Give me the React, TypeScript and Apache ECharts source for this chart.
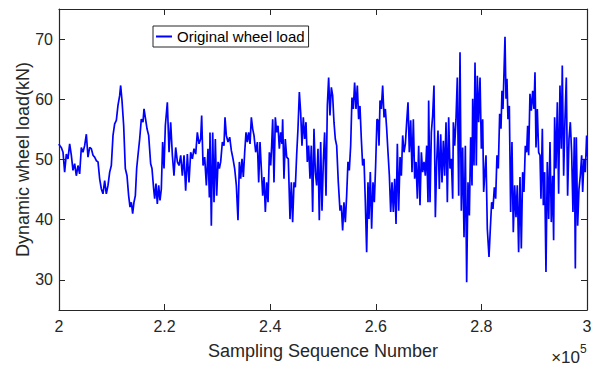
import React, { useEffect, useRef } from "react";
import * as echarts from "echarts";

// [sample number (thousands), dynamic wheel load (kN)]
const segment1: [number, number][] = [[200.00,52.6],[200.13,52.3],[200.44,52.0],[200.76,51.2],[201.07,47.9],[201.39,50.9],[201.70,50.1],[202.02,52.6],[202.34,50.7],[202.65,48.2],[202.97,49.3],[203.28,47.3],[203.60,49.0],[203.91,47.6],[204.23,52.0],[204.54,51.2],[204.86,52.3],[205.18,54.2],[205.49,50.4],[205.81,52.0],[206.12,51.8],[206.44,50.7],[206.75,50.4],[207.07,49.8],[207.39,49.6],[207.70,46.8],[208.02,45.1],[208.33,44.3],[208.65,46.5],[208.96,44.3],[209.28,45.7],[209.60,47.9],[209.91,49.0],[210.23,54.0],[210.54,55.9],[210.86,56.5],[211.17,59.0],[211.49,60.6],[211.68,62.3],[211.93,59.8],[212.25,55.6],[212.56,48.5],[212.88,47.3],[213.19,44.0],[213.45,42.1],[213.70,42.9],[213.95,41.0],[214.20,42.9],[214.46,44.0],[214.71,48.5],[214.96,50.7],[215.28,53.4],[215.59,56.7],[215.91,56.2],[216.10,58.4],[216.35,57.0],[216.67,55.1],[216.98,54.0],[217.36,49.3],[217.61,48.5],[217.93,45.1],[218.12,43.5],[218.37,46.0],[218.62,42.6],[218.88,45.7],[219.13,43.2],[219.38,45.1],[219.63,52.9],[219.89,48.5],[220.14,55.6]];
const segment2: [number, number][] = [[220.52,59.5],[220.84,51.2],[221.15,56.2],[221.47,50.7],[221.78,47.3],[222.10,52.0],[222.42,49.6],[222.73,49.0],[223.05,50.7],[223.36,47.3],[223.68,50.7],[223.99,44.8],[224.31,50.9],[224.62,46.2],[224.94,51.2],[225.26,50.1],[225.57,51.8],[225.89,50.9],[226.20,54.5],[226.52,52.6],[226.83,53.4],[227.02,57.3],[227.28,49.0],[227.59,50.4],[227.91,45.7],[228.22,51.8],[228.48,43.7],[228.60,54.5],[228.85,39.0],[229.11,54.5],[229.36,42.9],[229.61,53.4],[229.86,44.0],[230.12,49.6],[230.37,48.5],[230.62,49.6],[230.94,52.9],[231.25,52.3],[231.44,57.0],[231.69,54.0],[232.01,52.9],[232.33,53.7],[232.64,51.5],[232.96,50.1],[233.27,48.5],[233.59,45.7],[233.90,39.9],[234.16,49.6],[234.41,46.8],[234.66,50.1],[234.91,47.1],[235.17,51.2],[235.42,54.5],[235.67,52.9],[235.92,54.5],[236.18,52.6],[236.43,57.0],[236.68,55.1],[236.93,54.0],[237.25,51.2],[237.57,52.9],[237.82,46.2],[238.07,52.9],[238.32,48.5],[238.58,44.0],[238.83,47.1],[239.08,41.3],[239.33,46.2],[239.59,42.9],[239.84,51.2],[240.09,49.0],[240.28,52.3]];
const segment3: [number, number][] = [[240.47,56.7],[240.72,46.2],[240.97,57.0],[241.22,54.5],[241.48,55.6],[241.73,51.8],[241.98,54.5],[242.23,52.6],[242.36,56.7],[242.61,46.8],[242.86,53.4],[243.12,50.4],[243.43,50.1],[243.75,40.1],[244.00,46.2],[244.25,39.6],[244.51,46.2],[244.76,45.4],[245.01,50.7],[245.26,55.1],[245.52,61.2],[245.77,57.8],[246.02,52.3],[246.27,57.0],[246.53,53.4],[246.78,56.2],[247.03,49.6],[247.28,52.3],[247.54,46.8],[247.79,52.3],[248.04,41.3],[248.29,55.1],[248.55,47.9],[248.80,45.7],[249.05,51.8],[249.30,39.9],[249.56,52.9],[249.81,41.5],[250.06,49.6],[250.31,54.5],[250.57,44.0],[250.82,58.9],[251.07,63.6],[251.32,57.3],[251.58,62.0],[251.83,60.6],[252.08,56.2],[252.33,53.4],[252.59,52.3],[252.90,46.2],[253.22,41.5],[253.47,42.4],[253.72,38.2],[253.97,42.9],[254.23,39.6],[254.48,44.0],[254.73,49.6],[254.98,48.2],[255.24,52.3],[255.49,60.3],[255.74,58.4],[255.99,62.8],[256.25,58.4],[256.50,62.3],[256.75,56.7],[257.00,58.9],[257.26,53.4],[257.51,49.0],[257.76,50.1],[258.01,43.2],[258.27,34.6],[258.52,46.2],[258.71,40.1],[258.96,47.9],[259.21,38.5],[259.47,46.2],[259.72,42.9],[259.97,49.0],[260.22,56.7]];
const segment4: [number, number][] = [[260.42,56.5],[260.61,52.3],[260.80,59.8],[261.05,58.4],[261.30,62.3],[261.56,57.0],[261.81,58.4],[262.06,55.1],[262.31,51.2],[262.57,47.3],[262.82,41.3],[263.07,46.2],[263.32,41.3],[263.58,46.8],[263.83,39.3],[264.08,52.6],[264.33,41.5],[264.59,50.4],[264.84,47.3],[265.09,54.0],[265.34,51.2],[265.60,52.6],[265.85,56.2],[266.10,59.5],[266.35,51.2],[266.61,56.5],[266.86,47.9],[267.11,56.7],[267.36,46.8],[267.62,49.6],[267.87,43.5],[268.12,52.3],[268.37,42.4],[268.63,51.2],[268.88,47.9],[269.13,49.6],[269.38,47.3],[269.64,52.3],[269.89,42.9],[270.01,59.8],[270.27,42.9],[270.52,54.5],[270.77,57.3],[271.02,62.3],[271.28,40.4],[271.53,49.6],[271.78,54.8],[272.03,45.1],[272.29,54.2],[272.54,46.2],[272.79,53.1],[273.04,47.3],[273.30,56.2],[273.55,42.9],[273.80,57.0],[274.05,48.5],[274.31,50.1],[274.56,43.5],[274.69,56.2],[274.94,52.3],[275.19,56.7],[275.44,63.6],[275.70,44.0],[275.95,67.8],[276.20,41.5],[276.45,52.0],[276.71,37.1],[276.96,52.3],[277.21,29.6],[277.46,46.2],[277.72,40.7],[277.97,53.7],[278.22,45.7],[278.35,60.1],[278.60,49.0],[278.79,66.1],[279.04,49.0],[279.23,63.9],[279.48,56.2],[279.74,63.6],[279.99,51.8],[280.24,56.7],[280.43,44.6]];
const segment5: [number, number][] = [[280.87,50.7],[281.12,38.5],[281.44,33.8],[281.69,38.5],[281.94,42.9],[282.19,41.8],[282.45,45.4],[282.70,43.5],[282.95,50.7],[283.20,48.5],[283.46,57.6],[283.71,55.1],[283.90,61.4],[284.09,58.4],[284.28,64.5],[284.47,70.4],[284.66,60.1],[284.84,63.4],[285.03,56.7],[285.29,58.9],[285.54,41.3],[285.79,52.9],[286.04,37.9],[286.30,45.7],[286.55,40.4],[286.80,45.7],[287.05,34.6],[287.31,47.1],[287.56,35.2],[287.81,47.9],[288.06,44.6],[288.32,52.3],[288.57,51.2],[288.76,55.6],[288.95,50.7],[289.20,60.9],[289.45,58.1],[289.71,61.4],[289.96,58.4],[290.15,64.5],[290.34,52.0],[290.59,58.4],[290.84,51.2],[291.10,50.7],[291.28,43.5],[291.54,55.1],[291.73,42.4],[291.98,47.9],[292.23,31.3],[292.48,49.6],[292.74,40.1],[292.99,52.9],[293.24,39.6],[293.49,47.3],[293.68,36.6],[293.87,57.0],[294.12,48.5],[294.38,59.5],[294.63,44.3],[294.88,62.3],[295.13,51.8],[295.32,65.6],[295.58,47.3],[295.83,56.7],[296.08,63.6],[296.33,44.0],[296.59,53.4],[296.84,56.2],[297.09,51.2],[297.34,41.3],[297.60,53.7],[297.79,31.9],[297.98,53.7],[298.23,39.0],[298.48,45.1],[298.73,47.3],[298.99,50.7],[299.18,44.6],[299.43,50.1],[299.68,47.9],[299.93,54.0],[300.00,50.5]];

const yTicks = [30, 40, 50, 60, 70];
const xTicks = [200, 220, 240, 260, 280, 300];
const xTickLabels = ["2", "2.2", "2.4", "2.6", "2.8", "3"];
const seriesName = "Original wheel load";

export default function App() {
  const ref = useRef<HTMLDivElement>(null);
  useEffect(() => {
    if (!ref.current) return;
    const chart = echarts.init(ref.current, null, { renderer: "svg" });
    const data = [...segment1, ...segment2, ...segment3, ...segment4, ...segment5];
    const axisColor = "#262626";
    const font = "'Liberation Sans', Arial, Helvetica, sans-serif";
    const tickStyle = { show: true, inside: true, length: 6, lineStyle: { color: axisColor, width: 1 } };
    const lineStyle = { show: true, onZero: false, lineStyle: { color: axisColor, width: 1.2 } };
    chart.setOption({
      animation: false,
      grid: { left: 59, right: 18, top: 9, bottom: 54, containLabel: false },
      legend: {
        left: 153,
        top: 26,
        data: [seriesName],
        icon: "rect",
        itemWidth: 16,
        itemHeight: 2,
        itemGap: 5,
        padding: [3, 4, 3, 3],
        borderColor: axisColor,
        borderWidth: 1,
        backgroundColor: "#ffffff",
        textStyle: { color: "#000000", fontSize: 15, fontFamily: font },
      },
      xAxis: [
        {
          type: "value",
          position: "bottom",
          min: 200,
          max: 300,
          interval: 20,
          axisLine: lineStyle,
          axisTick: tickStyle,
          splitLine: { show: false },
          axisLabel: {
            color: axisColor,
            fontSize: 16,
            fontFamily: font,
            margin: 8,
            formatter: (v: number) => {
              const i = xTicks.findIndex((t) => Math.abs(t - v) < 1e-6);
              return i >= 0 ? xTickLabels[i] : "";
            },
          },
          name: "Sampling Sequence Number",
          nameLocation: "middle",
          nameGap: 32,
          nameMoveOverlap: false,
          nameTextStyle: { color: axisColor, fontSize: 18, fontFamily: font },
        },
        {
          type: "value",
          position: "top",
          min: 200,
          max: 300,
          interval: 20,
          axisLine: lineStyle,
          axisTick: tickStyle,
          axisLabel: { show: false },
          splitLine: { show: false },
        },
      ],
      yAxis: [
        {
          type: "value",
          position: "left",
          min: 25,
          max: 75,
          axisLine: lineStyle,
          axisTick: { ...tickStyle, customValues: yTicks },
          splitLine: { show: false },
          axisLabel: { color: axisColor, fontSize: 16, fontFamily: font, margin: 6, customValues: yTicks },
          name: "Dynamic wheel load(kN)",
          nameLocation: "middle",
          nameRotate: 90,
          nameGap: 27,
          nameMoveOverlap: false,
          nameTextStyle: { color: axisColor, fontSize: 18, fontFamily: font },
        },
        {
          type: "value",
          position: "right",
          min: 25,
          max: 75,
          axisLine: lineStyle,
          axisTick: { ...tickStyle, customValues: yTicks },
          axisLabel: { show: false },
          splitLine: { show: false },
        },
      ],
      graphic: [
        {
          type: "text",
          x: 580,
          y: 357,
          style: { text: "×10", fontSize: 17, fontFamily: font, fill: axisColor, align: "right", verticalAlign: "middle" },
        },
        {
          type: "text",
          x: 580,
          y: 349,
          style: { text: "5", fontSize: 12, fontFamily: font, fill: axisColor, align: "left", verticalAlign: "middle" },
        },
      ],
      series: [
        {
          name: seriesName,
          type: "line",
          xAxisIndex: 0,
          yAxisIndex: 0,
          data,
          showSymbol: false,
          symbol: "none",
          lineStyle: { color: "#0000ff", width: 1.7 },
          itemStyle: { color: "#0000ff" },
        },
      ],
    });
    return () => chart.dispose();
  }, []);
  return <div ref={ref} style={{ position: "fixed", left: 0, top: 0, width: 605, height: 365, background: "#ffffff" }} />;
}
